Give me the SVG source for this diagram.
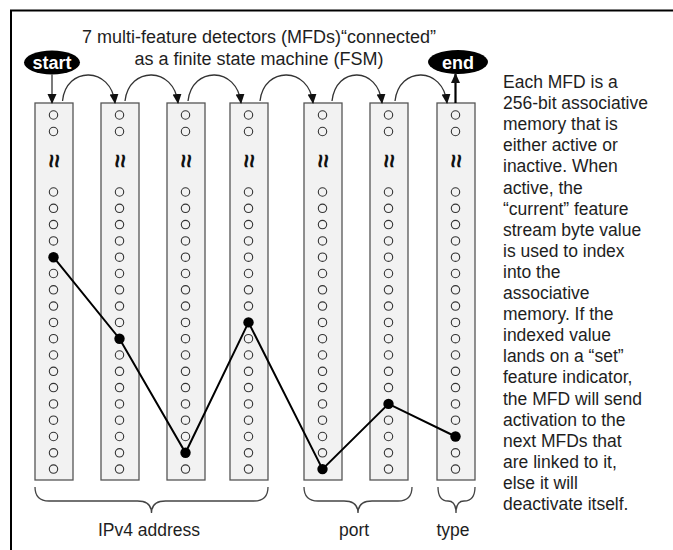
<svg xmlns="http://www.w3.org/2000/svg" width="673" height="550" viewBox="0 0 673 550">
<style>
text{font-family:"Liberation Sans",Arial,sans-serif;fill:#1e1e1e}
.title{font-size:18px;text-anchor:middle}
.side{font-size:17.5px}
.lbl{font-size:17.5px;text-anchor:middle}
.box{fill:#f2f2f2;stroke:#555;stroke-width:1.3}
.o{fill:none;stroke:#333;stroke-width:1.1}
.dot{fill:#000}
.wave{font-size:25px;font-weight:bold;text-anchor:middle;dominant-baseline:central;fill:#111}
.arc{fill:none;stroke:#333;stroke-width:1.3}
.brace{fill:none;stroke:#444;stroke-width:1.3}
.term{fill:#000}
.termt{font-size:18px;font-weight:bold;fill:#fff;text-anchor:middle}
</style>
<defs>
<marker id="ah" markerUnits="userSpaceOnUse" markerWidth="10" markerHeight="10" viewBox="0 0 10 10" refX="9" refY="5" orient="auto"><path d="M0,0.5 L10,5 L0,9.5 Z" fill="#111"/></marker>
<g id="col">
<rect class="box" x="0" y="103" width="38" height="377"/>
<circle class="o" cx="18.5" cy="115" r="4.2"/>
<circle class="o" cx="18.5" cy="131.5" r="4.2"/>
<text class="wave" x="20" y="161" transform="rotate(90 20 161)">≈</text>
</g>
</defs>
<path d="M11,550 V10.5 H673" fill="none" stroke="#000" stroke-width="2"/>
<text class="title" x="259" y="43">7 multi-feature detectors (MFDs)“connected”</text>
<text class="title" x="259" y="65">as a finite state machine (FSM)</text>

<g id="start"><ellipse class="term" cx="52" cy="62.5" rx="28" ry="12"/><text class="termt" x="52" y="69">start</text></g>
<g id="end"><ellipse class="term" cx="458" cy="62" rx="30" ry="12"/><text class="termt" x="458" y="68.5">end</text></g>

<g id="mfd1"><use href="#col" x="35"/></g>
<g id="mfd2"><use href="#col" x="101"/></g>
<g id="mfd3"><use href="#col" x="167"/></g>
<g id="mfd4"><use href="#col" x="230"/></g>
<g id="mfd5"><use href="#col" x="304"/></g>
<g id="mfd6"><use href="#col" x="370"/></g>
<g id="mfd7"><use href="#col" x="437"/></g>

<g id="cells">
<g transform="translate(53.5,0)">
<circle class="o" cy="192" r="4.2"/><circle class="o" cy="208.3" r="4.2"/><circle class="o" cy="224.6" r="4.2"/><circle class="o" cy="240.9" r="4.2"/><circle class="dot" cy="257.2" r="5.2"/><circle class="o" cy="273.5" r="4.2"/><circle class="o" cy="289.8" r="4.2"/><circle class="o" cy="306.1" r="4.2"/><circle class="o" cy="322.4" r="4.2"/><circle class="o" cy="338.7" r="4.2"/><circle class="o" cy="355" r="4.2"/><circle class="o" cy="371.3" r="4.2"/><circle class="o" cy="387.6" r="4.2"/><circle class="o" cy="403.9" r="4.2"/><circle class="o" cy="420.2" r="4.2"/><circle class="o" cy="436.5" r="4.2"/><circle class="o" cy="452.8" r="4.2"/><circle class="o" cy="469.1" r="4.2"/>
</g>
<g transform="translate(119.5,0)">
<circle class="o" cy="192" r="4.2"/><circle class="o" cy="208.3" r="4.2"/><circle class="o" cy="224.6" r="4.2"/><circle class="o" cy="240.9" r="4.2"/><circle class="o" cy="257.2" r="4.2"/><circle class="o" cy="273.5" r="4.2"/><circle class="o" cy="289.8" r="4.2"/><circle class="o" cy="306.1" r="4.2"/><circle class="o" cy="322.4" r="4.2"/><circle class="dot" cy="338.7" r="5.2"/><circle class="o" cy="355" r="4.2"/><circle class="o" cy="371.3" r="4.2"/><circle class="o" cy="387.6" r="4.2"/><circle class="o" cy="403.9" r="4.2"/><circle class="o" cy="420.2" r="4.2"/><circle class="o" cy="436.5" r="4.2"/><circle class="o" cy="452.8" r="4.2"/><circle class="o" cy="469.1" r="4.2"/>
</g>
<g transform="translate(185.5,0)">
<circle class="o" cy="192" r="4.2"/><circle class="o" cy="208.3" r="4.2"/><circle class="o" cy="224.6" r="4.2"/><circle class="o" cy="240.9" r="4.2"/><circle class="o" cy="257.2" r="4.2"/><circle class="o" cy="273.5" r="4.2"/><circle class="o" cy="289.8" r="4.2"/><circle class="o" cy="306.1" r="4.2"/><circle class="o" cy="322.4" r="4.2"/><circle class="o" cy="338.7" r="4.2"/><circle class="o" cy="355" r="4.2"/><circle class="o" cy="371.3" r="4.2"/><circle class="o" cy="387.6" r="4.2"/><circle class="o" cy="403.9" r="4.2"/><circle class="o" cy="420.2" r="4.2"/><circle class="o" cy="436.5" r="4.2"/><circle class="dot" cy="452.8" r="5.2"/><circle class="o" cy="469.1" r="4.2"/>
</g>
<g transform="translate(248.5,0)">
<circle class="o" cy="192" r="4.2"/><circle class="o" cy="208.3" r="4.2"/><circle class="o" cy="224.6" r="4.2"/><circle class="o" cy="240.9" r="4.2"/><circle class="o" cy="257.2" r="4.2"/><circle class="o" cy="273.5" r="4.2"/><circle class="o" cy="289.8" r="4.2"/><circle class="o" cy="306.1" r="4.2"/><circle class="dot" cy="322.4" r="5.2"/><circle class="o" cy="338.7" r="4.2"/><circle class="o" cy="355" r="4.2"/><circle class="o" cy="371.3" r="4.2"/><circle class="o" cy="387.6" r="4.2"/><circle class="o" cy="403.9" r="4.2"/><circle class="o" cy="420.2" r="4.2"/><circle class="o" cy="436.5" r="4.2"/><circle class="o" cy="452.8" r="4.2"/><circle class="o" cy="469.1" r="4.2"/>
</g>
<g transform="translate(322.5,0)">
<circle class="o" cy="192" r="4.2"/><circle class="o" cy="208.3" r="4.2"/><circle class="o" cy="224.6" r="4.2"/><circle class="o" cy="240.9" r="4.2"/><circle class="o" cy="257.2" r="4.2"/><circle class="o" cy="273.5" r="4.2"/><circle class="o" cy="289.8" r="4.2"/><circle class="o" cy="306.1" r="4.2"/><circle class="o" cy="322.4" r="4.2"/><circle class="o" cy="338.7" r="4.2"/><circle class="o" cy="355" r="4.2"/><circle class="o" cy="371.3" r="4.2"/><circle class="o" cy="387.6" r="4.2"/><circle class="o" cy="403.9" r="4.2"/><circle class="o" cy="420.2" r="4.2"/><circle class="o" cy="436.5" r="4.2"/><circle class="o" cy="452.8" r="4.2"/><circle class="dot" cy="469.1" r="5.2"/>
</g>
<g transform="translate(388.5,0)">
<circle class="o" cy="192" r="4.2"/><circle class="o" cy="208.3" r="4.2"/><circle class="o" cy="224.6" r="4.2"/><circle class="o" cy="240.9" r="4.2"/><circle class="o" cy="257.2" r="4.2"/><circle class="o" cy="273.5" r="4.2"/><circle class="o" cy="289.8" r="4.2"/><circle class="o" cy="306.1" r="4.2"/><circle class="o" cy="322.4" r="4.2"/><circle class="o" cy="338.7" r="4.2"/><circle class="o" cy="355" r="4.2"/><circle class="o" cy="371.3" r="4.2"/><circle class="o" cy="387.6" r="4.2"/><circle class="dot" cy="403.9" r="5.2"/><circle class="o" cy="420.2" r="4.2"/><circle class="o" cy="436.5" r="4.2"/><circle class="o" cy="452.8" r="4.2"/><circle class="o" cy="469.1" r="4.2"/>
</g>
<g transform="translate(455.5,0)">
<circle class="o" cy="192" r="4.2"/><circle class="o" cy="208.3" r="4.2"/><circle class="o" cy="224.6" r="4.2"/><circle class="o" cy="240.9" r="4.2"/><circle class="o" cy="257.2" r="4.2"/><circle class="o" cy="273.5" r="4.2"/><circle class="o" cy="289.8" r="4.2"/><circle class="o" cy="306.1" r="4.2"/><circle class="o" cy="322.4" r="4.2"/><circle class="o" cy="338.7" r="4.2"/><circle class="o" cy="355" r="4.2"/><circle class="o" cy="371.3" r="4.2"/><circle class="o" cy="387.6" r="4.2"/><circle class="o" cy="403.9" r="4.2"/><circle class="o" cy="420.2" r="4.2"/><circle class="dot" cy="436.5" r="5.2"/><circle class="o" cy="452.8" r="4.2"/><circle class="o" cy="469.1" r="4.2"/>
</g>
</g>

<g id="connectors">
<line x1="52" y1="74.5" x2="52" y2="103" stroke="#333" stroke-width="1.3" marker-end="url(#ah)"/>
<path class="arc" d="M62.5,101 C66,66 111,66 115,103" marker-end="url(#ah)"/>
<path class="arc" d="M125,101 C129,66 174,66 178,103" marker-end="url(#ah)"/>
<path class="arc" d="M188,101 C192,66 237,66 241,103" marker-end="url(#ah)"/>
<path class="arc" d="M260,101 C264,66 309,66 313,103" marker-end="url(#ah)"/>
<path class="arc" d="M332,101 C336,66 378,66 382,103" marker-end="url(#ah)"/>
<path class="arc" d="M395,101 C399,66 443,66 447,103" marker-end="url(#ah)"/>
<line x1="455.5" y1="103" x2="455.5" y2="74" stroke="#000" stroke-width="2.2" marker-end="url(#ah)"/>
<polyline points="53.5,257.2 119.5,338.7 185.5,452.8 248.5,322.4 322.5,469.1 388.5,403.9 455.5,436.5" fill="none" stroke="#000" stroke-width="2"/>
</g>

<g id="braces">
<path class="brace" d="M35,487 Q35,501 49,501 H137.5 Q151.5,501 151.5,513 Q151.5,501 165.5,501 H254 Q268,501 268,487"/>
<path class="brace" d="M304,487 Q304,501 318,501 H344 Q358,501 358,513 Q358,501 372,501 H398 Q412,501 412,487"/>
<path class="brace" d="M438,487 Q438,501 448,501 Q456,501 456,513 Q456,501 464,501 Q475,501 475,487"/>
<text class="lbl" x="149" y="536">IPv4 address</text>
<text class="lbl" x="354" y="536">port</text>
<text class="lbl" x="453" y="536">type</text>
</g>

<g id="description">
<text class="side" x="503" y="88">Each MFD is a</text>
<text class="side" x="503" y="109.1">256-bit associative</text>
<text class="side" x="503" y="130.2">memory that is</text>
<text class="side" x="503" y="151.3">either active or</text>
<text class="side" x="503" y="172.4">inactive. When</text>
<text class="side" x="503" y="193.5">active, the</text>
<text class="side" x="503" y="214.6">“current” feature</text>
<text class="side" x="503" y="235.7">stream byte value</text>
<text class="side" x="503" y="256.8">is used to index</text>
<text class="side" x="503" y="277.9">into the</text>
<text class="side" x="503" y="299">associative</text>
<text class="side" x="503" y="320.1">memory. If the</text>
<text class="side" x="503" y="341.2">indexed value</text>
<text class="side" x="503" y="362.3">lands on a “set”</text>
<text class="side" x="503" y="383.4">feature indicator,</text>
<text class="side" x="503" y="404.5">the MFD will send</text>
<text class="side" x="503" y="425.6">activation to the</text>
<text class="side" x="503" y="446.7">next MFDs that</text>
<text class="side" x="503" y="467.8">are linked to it,</text>
<text class="side" x="503" y="488.9">else it will</text>
<text class="side" x="503" y="510">deactivate itself.</text>
</g>
</svg>
